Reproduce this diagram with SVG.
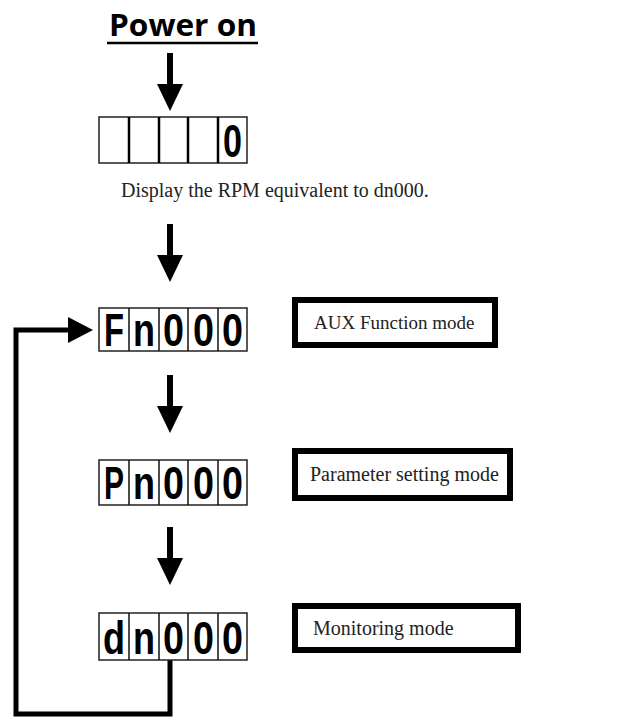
<svg xmlns="http://www.w3.org/2000/svg" width="620" height="722" viewBox="0 0 620 722">
<style>
.title{font-family:"Open Sans","Liberation Sans",sans-serif;font-weight:bold;font-size:31px;fill:#000}
.lbl{font-family:"Liberation Serif","Times New Roman",serif;font-size:19px;fill:#222}
.seg{font-family:"Liberation Sans",Arial,sans-serif;font-weight:bold;font-size:46px;fill:#000}
.frame{fill:#fff;stroke:#222;stroke-width:1.5}
.div{stroke:#111;stroke-width:1.5}
.div1{stroke:#000;stroke-width:2.5}
.mbox{fill:#fff;stroke:#000;stroke-width:6}
.line{fill:none;stroke:#000;stroke-width:5;stroke-linecap:square}
</style>
<defs>
<g id="arrowDown">
<rect x="-3" y="0" width="6" height="33" fill="#000"/>
<polygon points="-13,31 13,31 0,58" fill="#000"/>
</g>
</defs>
<rect width="620" height="722" fill="#fff"/>
<g id="power-on">
<text class="title" x="183" y="36" text-anchor="middle" textLength="148" lengthAdjust="spacingAndGlyphs">Power on</text>
<line x1="107" y1="43" x2="258" y2="43" stroke="#000" stroke-width="2.5"/>
</g>
<g id="connectors">
<use href="#arrowDown" x="170" y="53"/>
<use href="#arrowDown" x="170" y="224"/>
<use href="#arrowDown" x="170" y="375"/>
<use href="#arrowDown" x="170" y="527"/>
<polyline class="line" points="170,662 170,714 16,714 16,330 70,330"/>
<polygon points="68,317 93,330 68,343" fill="#000"/>
</g>
<g id="display-blank">
<rect class="frame" x="99" y="117" width="148" height="46"/>
<line class="div1" x1="129" y1="117" x2="129" y2="163"/>
<line class="div1" x1="159" y1="117" x2="159" y2="163"/>
<line class="div1" x1="188" y1="117" x2="188" y2="163"/>
<line class="div1" x1="218" y1="117" x2="218" y2="163"/>
<text class="seg" x="223" y="157" textLength="19" lengthAdjust="spacingAndGlyphs">0</text>
</g>
<g id="display-note">
<text class="lbl" x="121" y="197" style="font-size:20px">Display the RPM equivalent to dn000.</text>
</g>
<g id="display-fn">
<rect class="frame" x="99" y="308" width="148" height="43"/>
<line class="div" x1="129" y1="308" x2="129" y2="351"/>
<line class="div" x1="159" y1="308" x2="159" y2="351"/>
<line class="div" x1="188" y1="308" x2="188" y2="351"/>
<line class="div" x1="218" y1="308" x2="218" y2="351"/>
<text class="seg" x="104" y="346" textLength="20" lengthAdjust="spacingAndGlyphs">F</text>
<text class="seg" x="133" y="346" textLength="22" lengthAdjust="spacingAndGlyphs">n</text>
<text class="seg" x="163" y="346" textLength="21" lengthAdjust="spacingAndGlyphs">0</text>
<text class="seg" x="193" y="346" textLength="21" lengthAdjust="spacingAndGlyphs">0</text>
<text class="seg" x="222" y="346" textLength="21" lengthAdjust="spacingAndGlyphs">0</text>
</g>
<g id="display-pn">
<rect class="frame" x="99" y="460" width="148" height="45"/>
<line class="div" x1="129" y1="460" x2="129" y2="505"/>
<line class="div" x1="159" y1="460" x2="159" y2="505"/>
<line class="div" x1="188" y1="460" x2="188" y2="505"/>
<line class="div" x1="218" y1="460" x2="218" y2="505"/>
<text class="seg" x="104" y="499" textLength="20" lengthAdjust="spacingAndGlyphs">P</text>
<text class="seg" x="133" y="499" textLength="22" lengthAdjust="spacingAndGlyphs">n</text>
<text class="seg" x="163" y="499" textLength="21" lengthAdjust="spacingAndGlyphs">0</text>
<text class="seg" x="193" y="499" textLength="21" lengthAdjust="spacingAndGlyphs">0</text>
<text class="seg" x="222" y="499" textLength="21" lengthAdjust="spacingAndGlyphs">0</text>
</g>
<g id="display-dn">
<rect class="frame" x="99" y="613" width="148" height="47"/>
<line class="div" x1="129" y1="613" x2="129" y2="660"/>
<line class="div" x1="159" y1="613" x2="159" y2="660"/>
<line class="div" x1="188" y1="613" x2="188" y2="660"/>
<line class="div" x1="218" y1="613" x2="218" y2="660"/>
<text class="seg" x="103" y="654" textLength="22" lengthAdjust="spacingAndGlyphs">d</text>
<text class="seg" x="133" y="654" textLength="22" lengthAdjust="spacingAndGlyphs">n</text>
<text class="seg" x="163" y="654" textLength="21" lengthAdjust="spacingAndGlyphs">0</text>
<text class="seg" x="193" y="654" textLength="21" lengthAdjust="spacingAndGlyphs">0</text>
<text class="seg" x="222" y="654" textLength="21" lengthAdjust="spacingAndGlyphs">0</text>
</g>
<g id="mode-aux">
<rect class="mbox" x="295" y="300" width="200" height="45"/>
<text class="lbl" x="314" y="329">AUX Function mode</text>
</g>
<g id="mode-param">
<rect class="mbox" x="295" y="451" width="215" height="47"/>
<text class="lbl" x="310" y="481" style="font-size:20px">Parameter setting mode</text>
</g>
<g id="mode-monitor">
<rect class="mbox" x="295" y="606" width="223" height="44"/>
<text class="lbl" x="313" y="635" style="font-size:20px">Monitoring mode</text>
</g>
</svg>
